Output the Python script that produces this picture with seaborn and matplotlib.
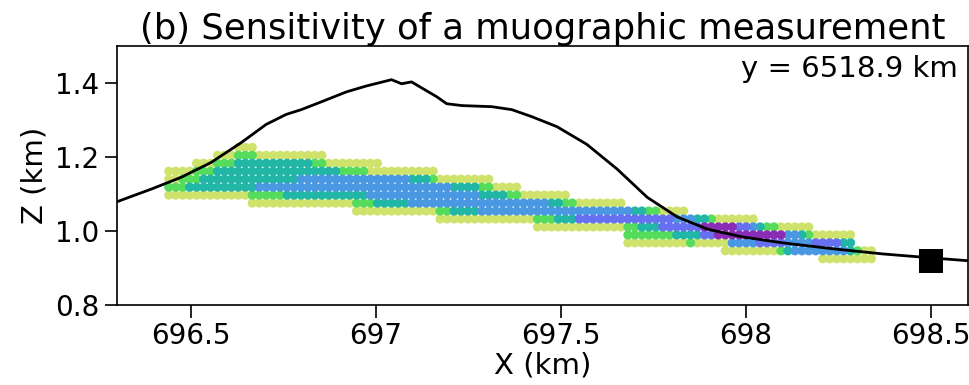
import numpy as np
import pandas as pd
import matplotlib
matplotlib.use("Agg")
import matplotlib.pyplot as plt
import seaborn as sns

# ---------------- data ----------------
title = "(b) Sensitivity of a muographic measurement"
slice_label = "y = 6518.9 km"
x_ticks = [696.5, 697, 697.5, 698, 698.5]
x_tick_labels = ["696.5", "697", "697.5", "698", "698.5"]
z_ticks = [0.8, 1.0, 1.2, 1.4]
z_tick_labels = ["0.8", "1.0", "1.2", "1.4"]
x_limits = (696.3, 698.6)
z_limits = (0.8, 1.5)

# topography profile along the slice (km)
topo_x = [696.297, 696.392, 696.473, 696.554, 696.636, 696.703, 696.757, 696.798,
          696.852, 696.920, 696.974, 697.042, 697.069, 697.096, 697.123, 697.164,
          697.191, 697.232, 697.313, 697.367, 697.421, 697.489, 697.570, 697.652,
          697.733, 697.814, 697.896, 697.990, 698.099, 698.234, 698.370, 698.505, 698.608]
topo_z = [1.078, 1.113, 1.145, 1.185, 1.239, 1.288, 1.315, 1.328,
          1.349, 1.376, 1.392, 1.409, 1.398, 1.403, 1.387, 1.363,
          1.344, 1.339, 1.336, 1.328, 1.309, 1.282, 1.234, 1.167,
          1.091, 1.038, 1.005, 0.984, 0.968, 0.952, 0.938, 0.927, 0.919]

# detector position
detector_x = [698.5]
detector_z = [0.92]

# voxel grid of the sensitivity map
grid_x0, grid_dx = 696.44, 0.0188
grid_z0, grid_dz = 0.925, 0.0215

# sensitivity level per voxel: row index -> list of (first column, last column, level)
row_segments = {
    14: [(10, 12, 0)],
    13: [(7, 9, 0), (10, 12, 1), (13, 22, 0)],
    12: [(4, 6, 0), (7, 9, 1), (10, 20, 2), (21, 22, 1), (23, 30, 0)],
    11: [(0, 3, 0), (4, 6, 1), (7, 24, 2), (25, 28, 1), (29, 38, 0)],
    10: [(0, 1, 0), (2, 4, 1), (5, 18, 2), (19, 34, 3), (35, 37, 2), (38, 38, 1), (39, 46, 0)],
    9:  [(0, 2, 1), (3, 12, 2), (13, 40, 3), (41, 44, 2), (45, 46, 1), (47, 50, 0)],
    8:  [(0, 11, 0), (12, 16, 1), (17, 28, 2), (29, 44, 3), (45, 48, 2), (49, 50, 1), (51, 57, 0)],
    7:  [(12, 26, 0), (27, 29, 1), (30, 34, 2), (35, 54, 3), (55, 56, 2), (57, 58, 1), (59, 65, 0)],
    6:  [(27, 38, 0), (39, 40, 1), (41, 44, 2), (45, 66, 3), (67, 68, 2), (69, 70, 1), (71, 74, 0)],
    5:  [(39, 52, 0), (53, 55, 1), (56, 58, 2), (59, 72, 4), (73, 75, 3), (76, 77, 2), (78, 78, 1), (79, 84, 0)],
    4:  [(53, 65, 0), (66, 67, 1), (68, 70, 2), (71, 76, 4), (77, 81, 5), (82, 83, 4), (84, 84, 3),
         (85, 85, 2), (86, 87, 1), (88, 92, 0)],
    3:  [(66, 72, 1), (73, 76, 2), (77, 78, 4), (79, 88, 5), (89, 90, 3), (91, 91, 2), (92, 92, 1), (93, 98, 0)],
    2:  [(66, 74, 0), (75, 75, 1), (76, 80, 0), (81, 84, 3), (85, 88, 4), (89, 92, 3), (93, 96, 4), (97, 98, 2)],
    1:  [(80, 87, 0), (88, 88, 1), (89, 89, 2), (90, 97, 3), (98, 98, 2), (99, 99, 1), (100, 101, 0)],
    0:  [(94, 101, 0)],
}
level_colors = ["#cfe36c", "#56dc5c", "#22b6a6", "#4a98e2", "#6670f0", "#8a2cb6"]

# ---------------- build table ----------------
recs = []
for row, segs in row_segments.items():
    for c0, c1, lev in segs:
        for c in range(c0, c1 + 1):
            recs.append((grid_x0 + c * grid_dx, grid_z0 + row * grid_dz, lev))
vox = pd.DataFrame(recs, columns=["x", "z", "level"]).sort_values("level")
topo = pd.DataFrame({"x": topo_x, "z": topo_z})
det = pd.DataFrame({"x": detector_x, "z": detector_z})

# ---------------- plot ----------------
sns.set_style("ticks")
plt.rcParams["font.family"] = ["DejaVu Sans"]
for key in ["text.color", "axes.labelcolor", "xtick.color", "ytick.color", "axes.edgecolor"]:
    plt.rcParams[key] = "black"

fig = plt.figure(figsize=(9.7, 3.85), dpi=100)
ax = fig.add_axes([0.1206, 0.2078, 0.8774, 0.6727])

palette = {i: col for i, col in enumerate(level_colors)}
sns.scatterplot(data=vox, x="x", y="z", hue="level", palette=palette, s=44,
                linewidth=0, legend=False, ax=ax, zorder=2)
sns.lineplot(data=topo, x="x", y="z", color="black", linewidth=2, sort=False,
             estimator=None, ax=ax, zorder=3)
sns.scatterplot(data=det, x="x", y="z", marker="s", color="black", s=300,
                linewidth=0, legend=False, ax=ax, zorder=4)

ax.set_xlim(*x_limits)
ax.set_ylim(*z_limits)
ax.set_xticks(x_ticks)
ax.set_xticklabels(x_tick_labels)
ax.set_yticks(z_ticks)
ax.set_yticklabels(z_tick_labels)
ax.tick_params(axis="both", labelsize=20, length=9, width=1.2, direction="out",
               colors="black")
ax.set_xlabel("X (km)", fontsize=21, labelpad=1)
ax.set_ylabel("Z (km)", fontsize=21, labelpad=5)
ax.set_title(title, fontsize=25.5, pad=5, color="black")
for sp in ax.spines.values():
    sp.set_visible(True)
    sp.set_color("black")
    sp.set_linewidth(1.2)
ax.text(0.988, 0.965, slice_label, transform=ax.transAxes, ha="right", va="top",
        fontsize=21, color="black")

fig.savefig("out.png", dpi=100)
